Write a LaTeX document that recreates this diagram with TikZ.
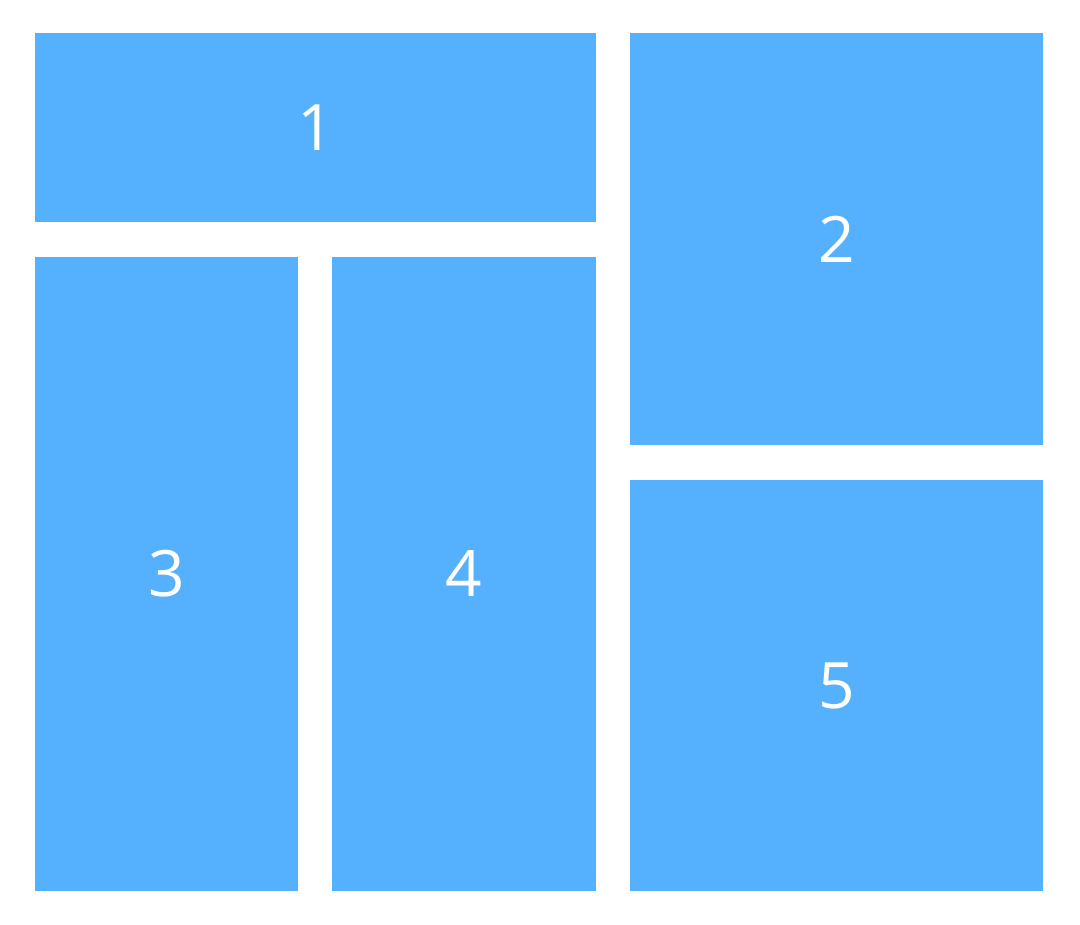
\documentclass[tikz,border=0pt]{standalone}
\usepackage{fontspec}
\setmainfont{Open Sans}
\definecolor{tileblue}{HTML}{55B1FE}
\begin{document}
\begin{tikzpicture}[x=0.75pt,y=-0.75pt]
\tikzstyle{tile} = [fill=tileblue, draw=none]
\tikzstyle{num} = [text=white, font=\fontsize{48}{48}\selectfont]
\useasboundingbox (0,0) rectangle (1080,924);
% tiles
\fill[tile] (35,33) rectangle (596,222);
\fill[tile] (630,33) rectangle (1043,445);
\fill[tile] (35,257) rectangle (298,891);
\fill[tile] (332,257) rectangle (596,891);
\fill[tile] (630,480) rectangle (1043,891);
% labels
\node[num] (n1) at (315.5,127.5) {1};
\node[num] (n2) at (836.5,239) {2};
\node[num] (n3) at (166.5,574) {3};
\node[num] (n4) at (464,574) {4};
\node[num] (n5) at (836.5,685.5) {5};
\end{tikzpicture}
\end{document}
